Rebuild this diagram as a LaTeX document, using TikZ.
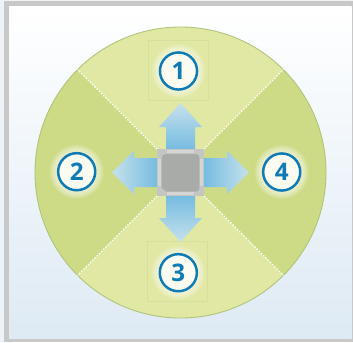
\documentclass[tikz,border=0pt]{standalone}
\usepackage{fontspec}
\setmainfont{Open Sans}
\definecolor{frameg}{HTML}{C8C8C8}
\definecolor{bgtop}{HTML}{FFFFFF}
\definecolor{bgbottom}{HTML}{DEEAF4}
\definecolor{outerbg}{HTML}{EEF3F8}
\definecolor{disclight}{HTML}{E0E8A4}
\definecolor{discdark}{HTML}{CEDB86}
\definecolor{discedge}{HTML}{AFC47A}
\definecolor{badgeblue}{HTML}{0F7BB5}
\definecolor{badgefill}{HTML}{FBFBF1}
\definecolor{arrowdeep}{HTML}{74BBE0}
\definecolor{arrowpale}{HTML}{C6E1EC}
\definecolor{chipg}{HTML}{A9ABA9}
\definecolor{chipbase}{HTML}{C4C6C4}
\definecolor{chiprim}{HTML}{D4D5D4}
\tikzset{
  px/.style={x=0.0283cm,y=-0.0283cm},
  badge/.style={circle,draw=badgeblue,line width=2pt,fill=badgefill,minimum size=1.05cm,inner sep=0pt,text=badgeblue,font=\fontsize{19.5}{20}\selectfont\bfseries},
  slice/.style={draw=white,line width=1.1pt,dash pattern=on 1.2pt off 1.3pt},
  faintbox/.style={line width=0.3pt},
  glowring/.style={fill=badgefill,fill opacity=0.13},
}
\begin{document}
\begin{tikzpicture}[px]
\useasboundingbox (0,0) rectangle (353,342);
\fill[outerbg] (0,0) rectangle (353,342);
\fill[frameg] (4,1) rectangle (353,342);
\shade[top color=bgtop,bottom color=bgbottom] (9,6) rectangle (351.6,338);
% disc
\coordinate (c) at (180.5,172.5);
\coordinate (tl) at (77.6,69.6);
\coordinate (tr) at (283.4,69.6);
\coordinate (bl) at (77.6,275.4);
\coordinate (br) at (283.4,275.4);
\fill[disclight] (c) circle[x radius=145.5,y radius=145.5];
\fill[discdark] (c) -- (tl) arc[start angle=225,end angle=135,x radius=145.5,y radius=145.5] -- cycle;
\fill[discdark] (c) -- (tr) arc[start angle=-45,end angle=45,x radius=145.5,y radius=145.5] -- cycle;
\draw[discedge,line width=0.7pt] (c) circle[x radius=145.5,y radius=145.5];
% chip corners and dashed dividers
\coordinate (ctl) at (157,149);
\coordinate (ctr) at (204,149);
\coordinate (cbl) at (157,196);
\coordinate (cbr) at (204,196);
\draw[slice] (ctl) -- (tl);
\draw[slice] (ctr) -- (tr);
\draw[slice] (cbl) -- (bl);
\draw[slice] (cbr) -- (br);
% faint boxes
\draw[faintbox,draw=disclight!96!black] (148.5,40) rectangle (208,100);
\draw[faintbox,draw=disclight!96!black] (147.5,241) rectangle (207,301);
\draw[faintbox,draw=discdark!99!black] (47,140) rectangle (107,200);
\draw[faintbox,draw=discdark!99!black] (251,140) rectangle (311,200);
% glows
\foreach \gx/\gy in {178.5/71,178.3/272.7,76.7/171.7,281.7/172}{
  \foreach \gr in {20,21,22,23,24,25,26,27}{
    \fill[glowring] (\gx,\gy) circle[x radius=\gr,y radius=\gr];
  }
}
% arrows
\shade[top color=arrowpale,bottom color=arrowdeep,middle color=arrowdeep!50!arrowpale]
  (180.5,103) -- (202,127) -- (195,127) -- (195,150) -- (166,150) -- (166,127) -- (159,127) -- cycle;
\shade[bottom color=arrowpale,top color=arrowdeep,middle color=arrowdeep!50!arrowpale]
  (180.5,242) -- (202,218) -- (195,218) -- (195,195) -- (166,195) -- (166,218) -- (159,218) -- cycle;
\shade[left color=arrowpale,right color=arrowdeep,middle color=arrowdeep!50!arrowpale]
  (112,172.5) -- (134,151) -- (134,158) -- (158,158) -- (158,187) -- (134,187) -- (134,194) -- cycle;
\shade[right color=arrowpale,left color=arrowdeep,middle color=arrowdeep!50!arrowpale]
  (249,172.5) -- (227,151) -- (227,158) -- (203,158) -- (203,187) -- (227,187) -- (227,194) -- cycle;
% chip
\fill[chipbase] (ctl) rectangle (cbr);
\fill[chiprim] (167,150) rectangle (194,153);
\fill[chiprim] (167,192) rectangle (194,195);
\fill[chiprim] (158,159) rectangle (161,186);
\fill[chiprim] (200,159) rectangle (203,186);
\fill[chipg] (166,154) -- (195.5,154) .. controls (198,154) and (199.3,155.5) .. (199.3,158)
  -- (199.3,188) .. controls (199.3,190.5) and (198,191.7) .. (195.5,191.7)
  -- (166,191.7) -- (161.7,187.5) -- (161.7,158) .. controls (161.7,155.5) and (163.5,154) .. (166,154) -- cycle;
% badges
\node[badge] (b1) at (178.5,71) {1};
\node[badge] (b2) at (76.7,171.7) {2};
\node[badge] (b3) at (178.3,272.7) {3};
\node[badge] (b4) at (281.7,172) {4};
\end{tikzpicture}
\end{document}
